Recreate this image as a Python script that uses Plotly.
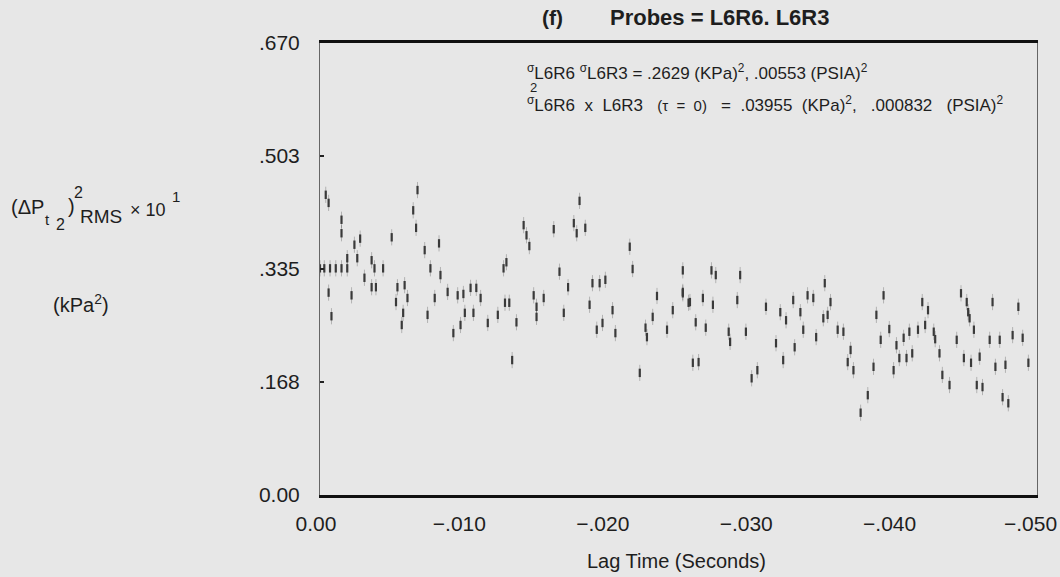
import plotly.graph_objects as go

# ---------------- data ----------------
lag_time = [
    0.0, -0.0003, -0.0007, -0.0011, -0.0015, -0.0019,
    -0.0004, -0.0006, -0.0015, -0.0015, -0.0024, -0.0028, -0.0050, -0.0068, -0.0065, -0.0067,
    -0.0073, -0.0083, -0.0019, -0.0026, -0.0036, -0.0044, -0.0038, -0.0077, -0.0084, -0.0031,
    -0.0036, -0.0039, -0.0022, -0.0054, -0.0059, -0.0061, -0.0053, -0.0080, -0.0075, -0.0058,
    -0.0057, -0.0089, -0.0096, -0.0100, -0.0105, -0.0109, -0.0112, -0.0107, -0.0101, -0.0093,
    -0.0098, -0.0117, -0.0124, -0.0128, -0.0129, -0.0006, -0.0008,
    -0.0181, -0.0142, -0.0144, -0.0146, -0.0163, -0.0177, -0.0179, -0.0185, -0.0216, -0.0130,
    -0.0167, -0.0218, -0.0253, -0.0173, -0.0190, -0.0195, -0.0199, -0.0149, -0.0156, -0.0132,
    -0.0151, -0.0188, -0.0170, -0.0204, -0.0235, -0.0253, -0.0246, -0.0137, -0.0151, -0.0197,
    -0.0193, -0.0206, -0.0232, -0.0227, -0.0228, -0.0242, -0.0134, -0.0223, -0.0258,
    -0.0253, -0.0257, -0.0273, -0.0276, -0.0274, -0.0267, -0.0293, -0.0291, -0.0262, -0.0269,
    -0.0260, -0.0264, -0.0285, -0.0286, -0.0297, -0.0305, -0.0301, -0.0311, -0.0321, -0.0318,
    -0.0325, -0.0330, -0.0335, -0.0331, -0.0323, -0.0337, -0.0340, -0.0344, -0.0346, -0.0351,
    -0.0352, -0.0354, -0.0356, -0.0361, -0.0365, -0.0370, -0.0368, -0.0372, -0.0382, -0.0377,
    -0.0386, -0.0388, -0.0393, -0.0391, -0.0397, -0.0400, -0.0402, -0.0404, -0.0407, -0.0409,
    -0.0411, -0.0413, -0.0417, -0.0420, -0.0422, -0.0424, -0.0428, -0.0429, -0.0432, -0.0434,
    -0.0439, -0.0444, -0.0447, -0.0451, -0.0452, -0.0453, -0.0449, -0.0456, -0.0454, -0.0460,
    -0.0458, -0.0462, -0.0467, -0.0469, -0.0474, -0.0471, -0.0478, -0.0476, -0.0480, -0.0483,
    -0.0490, -0.0487, -0.0494,
]
rms_value = [
    0.336, 0.336, 0.336, 0.336, 0.336, 0.336,
    0.445, 0.433, 0.408, 0.388, 0.371, 0.380, 0.382, 0.452, 0.422, 0.396,
    0.363, 0.373, 0.351, 0.351, 0.348, 0.336, 0.336, 0.336, 0.326, 0.322,
    0.308, 0.308, 0.296, 0.308, 0.311, 0.292, 0.286, 0.292, 0.267, 0.270,
    0.252, 0.301, 0.296, 0.298, 0.307, 0.307, 0.292, 0.270, 0.270, 0.240,
    0.252, 0.255, 0.267, 0.336, 0.285, 0.300, 0.265,
    0.436, 0.400, 0.385, 0.369, 0.394, 0.403, 0.388, 0.396, 0.368, 0.345,
    0.331, 0.335, 0.333, 0.308, 0.314, 0.314, 0.319, 0.296, 0.292, 0.285,
    0.279, 0.282, 0.270, 0.274, 0.295, 0.299, 0.274, 0.256, 0.264, 0.255,
    0.245, 0.240, 0.264, 0.248, 0.234, 0.245, 0.200, 0.181, 0.286,
    0.301, 0.285, 0.333, 0.326, 0.282, 0.292, 0.326, 0.289, 0.256, 0.248,
    0.196, 0.197, 0.242, 0.227, 0.242, 0.185, 0.173, 0.279, 0.271, 0.225,
    0.259, 0.289, 0.271, 0.219, 0.200, 0.245, 0.296, 0.292, 0.234, 0.262,
    0.314, 0.267, 0.286, 0.245, 0.242, 0.215, 0.197, 0.185, 0.148, 0.122,
    0.190, 0.267, 0.296, 0.230, 0.246, 0.185, 0.222, 0.203, 0.233, 0.203,
    0.242, 0.210, 0.245, 0.286, 0.252, 0.274, 0.242, 0.231, 0.210, 0.178,
    0.163, 0.230, 0.299, 0.286, 0.271, 0.262, 0.203, 0.245, 0.196, 0.205,
    0.163, 0.160, 0.230, 0.286, 0.230, 0.190, 0.193, 0.145, 0.136, 0.237,
    0.233, 0.279, 0.196,
]

x_tick_vals = [0.0, -0.010, -0.020, -0.030, -0.040, -0.050]
x_tick_text = ["0.00", "\u2212.010", "\u2212.020", "\u2212.030", "\u2212.040", "\u2212.050"]
y_tick_vals = [0.0, 0.168, 0.335, 0.503, 0.670]
y_tick_text = ["0.00", ".168", ".335", ".503", ".670"]

# ---------------- layout helpers ----------------
W, H = 1060, 577
L, R, T, B = 320, 23, 43, 82
PW, PH = W - L - R, H - T - B


def px(xp):
    return (xp - L) / PW


def py(yp):
    return (H - B - yp) / PH


FONT = "Liberation Sans, Arial, Helvetica, sans-serif"
INK = "#1e1e1e"
MARK = "#3a3a3a"
NB = "\u00a0"
TICK_SIZE = 21

fig = go.Figure()
fig.add_trace(go.Scatter(
    x=lag_time, y=rms_value, mode="markers",
    marker=dict(symbol="line-ns-open", size=6, color=MARK,
                line=dict(width=2.2, color=MARK)),
    error_y=dict(type="constant", value=0.012, width=0, thickness=1,
                 color="rgba(80,80,80,0.35)"),
    showlegend=False, hoverinfo="x+y",
))

ann = []


def add(text, xp, yp, size, anchor="left"):
    ann.append(dict(text=text, x=px(xp), y=py(yp), xref="paper", yref="paper",
                    xanchor=anchor, yanchor="middle", showarrow=False,
                    borderpad=0, font=dict(family=FONT, size=size, color=INK)))


# title
add("<b>(f)</b>", 541, 17, 21)
add("<b>Probes = L6R6. L6R3</b>", 609, 17, 22)
# statistics text
add("<sup>\u03c3</sup>L6R6 <sup>\u03c3</sup>L6R3 = .2629 (KPa)<sup>2</sup>, .00553 (PSIA)<sup>2</sup>",
    526, 72, 17)
add("2", 529, 87, 13)
tau = "<span style='font-size:15px'>(\u03c4" + NB * 2 + "=" + NB * 2 + "0)</span>"
add("<sup>\u03c3</sup>L6R6" + NB * 2 + "x" + NB * 2 + "L6R3" + NB * 3 + tau + NB * 3 + "="
    + NB * 2 + ".03955" + NB * 2 + "(KPa)<sup>2</sup>," + NB * 3
    + ".000832" + NB * 3 + "(PSIA)<sup>2</sup>",
    526, 104, 17)
# y-axis label
add("(\u0394P", 10, 207, 20)
add("t", 44, 219, 15)
add("2", 55, 224, 16)
add(")", 67, 206, 20)
add("2", 73, 193, 16)
add("RMS", 79, 216, 19)
add("\u00d7 10", 129, 210, 18)
add("1", 171, 196, 15)
add("(kPa<sup>2</sup>)", 52, 303, 20)
# x-axis title
add("Lag Time (Seconds)", 676, 561, 20, anchor="center")

# the last x tick label sits slightly left of its tick (as in the reference),
# so it is placed through the x scale with a pixel shift
ann.append(dict(text=x_tick_text[-1], x=x_tick_vals[-1], xref="x",
                y=py(523), yref="paper", xanchor="center", yanchor="middle",
                xshift=-7, showarrow=False, borderpad=0,
                font=dict(family=FONT, size=TICK_SIZE, color=INK)))
axis_tick_text = x_tick_text[:-1] + [""]

fig.update_layout(
    width=W, height=H,
    margin=dict(l=L, r=R, t=T, b=B, autoexpand=False),
    paper_bgcolor="#e7e7e7", plot_bgcolor="#e7e7e7",
    annotations=ann,
    xaxis=dict(range=[0.0, -0.050], tickvals=x_tick_vals, ticktext=axis_tick_text,
               showgrid=False, zeroline=False, showline=True, linewidth=2.5,
               linecolor="#111", mirror=True, ticks="", ticklabelstandoff=8,
               ticklabelshift=4, automargin=False,
               tickfont=dict(family=FONT, size=TICK_SIZE, color=INK)),
    yaxis=dict(range=[0.0, 0.670], tickvals=y_tick_vals, ticktext=y_tick_text,
               showgrid=False, zeroline=False, showline=True, linewidth=1,
               linecolor="#666", mirror=True, ticks="inside", ticklen=4,
               tickwidth=2, tickcolor="#222", ticklabelstandoff=15,
               automargin=False,
               tickfont=dict(family=FONT, size=TICK_SIZE, color=INK)),
)

fig.write_html("out.html")
